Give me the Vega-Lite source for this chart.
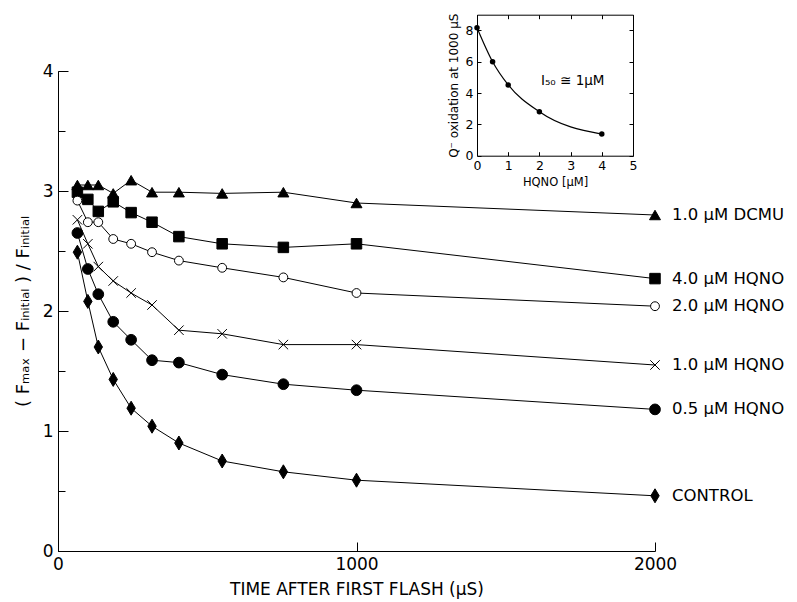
{
  "$schema": "https://vega.github.io/schema/vega-lite/v6.json",
  "width": 597,
  "height": 480,
  "autosize": {"type": "none"},
  "padding": {"left": 58, "top": 71, "right": 142, "bottom": 51},
  "background": "white",
  "config": {
    "view": {"stroke": null},
    "font": "DejaVu Sans",
    "axis": {"domainColor": "black", "tickColor": "black", "labelColor": "black", "titleColor": "black", "grid": false, "titleFontWeight": "normal", "domainWidth": 1, "tickWidth": 1, "labelFont": "DejaVu Sans", "titleFont": "DejaVu Sans"}
  },
  "datasets": {
    "main": [
      {"series": "1.0 µM DCMU", "t": 65, "v": 3.05},
      {"series": "1.0 µM DCMU", "t": 100, "v": 3.05},
      {"series": "1.0 µM DCMU", "t": 135, "v": 3.05},
      {"series": "1.0 µM DCMU", "t": 185, "v": 2.98},
      {"series": "1.0 µM DCMU", "t": 245, "v": 3.09},
      {"series": "1.0 µM DCMU", "t": 315, "v": 2.99},
      {"series": "1.0 µM DCMU", "t": 405, "v": 2.99},
      {"series": "1.0 µM DCMU", "t": 550, "v": 2.98},
      {"series": "1.0 µM DCMU", "t": 755, "v": 2.99},
      {"series": "1.0 µM DCMU", "t": 1000, "v": 2.90},
      {"series": "1.0 µM DCMU", "t": 2000, "v": 2.80},
      {"series": "4.0 µM HQNO", "t": 65, "v": 2.99},
      {"series": "4.0 µM HQNO", "t": 100, "v": 2.93},
      {"series": "4.0 µM HQNO", "t": 135, "v": 2.83},
      {"series": "4.0 µM HQNO", "t": 185, "v": 2.91},
      {"series": "4.0 µM HQNO", "t": 245, "v": 2.82},
      {"series": "4.0 µM HQNO", "t": 315, "v": 2.74},
      {"series": "4.0 µM HQNO", "t": 405, "v": 2.62},
      {"series": "4.0 µM HQNO", "t": 550, "v": 2.56},
      {"series": "4.0 µM HQNO", "t": 755, "v": 2.53},
      {"series": "4.0 µM HQNO", "t": 1000, "v": 2.56},
      {"series": "4.0 µM HQNO", "t": 2000, "v": 2.27},
      {"series": "2.0 µM HQNO", "t": 65, "v": 2.92},
      {"series": "2.0 µM HQNO", "t": 100, "v": 2.74},
      {"series": "2.0 µM HQNO", "t": 135, "v": 2.74},
      {"series": "2.0 µM HQNO", "t": 185, "v": 2.60},
      {"series": "2.0 µM HQNO", "t": 245, "v": 2.56},
      {"series": "2.0 µM HQNO", "t": 315, "v": 2.49},
      {"series": "2.0 µM HQNO", "t": 405, "v": 2.42},
      {"series": "2.0 µM HQNO", "t": 550, "v": 2.36},
      {"series": "2.0 µM HQNO", "t": 755, "v": 2.28},
      {"series": "2.0 µM HQNO", "t": 1000, "v": 2.15},
      {"series": "2.0 µM HQNO", "t": 2000, "v": 2.04},
      {"series": "1.0 µM HQNO", "t": 65, "v": 2.76},
      {"series": "1.0 µM HQNO", "t": 100, "v": 2.56},
      {"series": "1.0 µM HQNO", "t": 135, "v": 2.37},
      {"series": "1.0 µM HQNO", "t": 185, "v": 2.25},
      {"series": "1.0 µM HQNO", "t": 245, "v": 2.15},
      {"series": "1.0 µM HQNO", "t": 315, "v": 2.05},
      {"series": "1.0 µM HQNO", "t": 405, "v": 1.84},
      {"series": "1.0 µM HQNO", "t": 550, "v": 1.81},
      {"series": "1.0 µM HQNO", "t": 755, "v": 1.72},
      {"series": "1.0 µM HQNO", "t": 1000, "v": 1.72},
      {"series": "1.0 µM HQNO", "t": 2000, "v": 1.55},
      {"series": "0.5 µM HQNO", "t": 65, "v": 2.65},
      {"series": "0.5 µM HQNO", "t": 100, "v": 2.35},
      {"series": "0.5 µM HQNO", "t": 135, "v": 2.14},
      {"series": "0.5 µM HQNO", "t": 185, "v": 1.91},
      {"series": "0.5 µM HQNO", "t": 245, "v": 1.76},
      {"series": "0.5 µM HQNO", "t": 315, "v": 1.59},
      {"series": "0.5 µM HQNO", "t": 405, "v": 1.57},
      {"series": "0.5 µM HQNO", "t": 550, "v": 1.47},
      {"series": "0.5 µM HQNO", "t": 755, "v": 1.39},
      {"series": "0.5 µM HQNO", "t": 1000, "v": 1.34},
      {"series": "0.5 µM HQNO", "t": 2000, "v": 1.18},
      {"series": "CONTROL", "t": 65, "v": 2.49},
      {"series": "CONTROL", "t": 100, "v": 2.08},
      {"series": "CONTROL", "t": 135, "v": 1.70},
      {"series": "CONTROL", "t": 185, "v": 1.43},
      {"series": "CONTROL", "t": 245, "v": 1.19},
      {"series": "CONTROL", "t": 315, "v": 1.04},
      {"series": "CONTROL", "t": 405, "v": 0.90},
      {"series": "CONTROL", "t": 550, "v": 0.75},
      {"series": "CONTROL", "t": 755, "v": 0.66},
      {"series": "CONTROL", "t": 1000, "v": 0.59},
      {"series": "CONTROL", "t": 2000, "v": 0.46}
    ],
    "inset": [
      {"hqno": 0, "q": 8.17},
      {"hqno": 0.5, "q": 6.0},
      {"hqno": 1, "q": 4.52},
      {"hqno": 2, "q": 2.8},
      {"hqno": 4, "q": 1.38}
    ],
    "note": [
      {"hqno": 2.05, "q": 4.8, "text": "I₅₀ ≅ 1µM"}
    ]
  },
  "layer": [
    {
      "data": {"name": "main"},
      "mark": {"type": "line", "color": "black", "strokeWidth": 1},
      "encoding": {
        "x": {"field": "t", "type": "quantitative", "scale": {"domain": [0, 2000], "nice": false, "zero": false},
          "axis": {"orient": "bottom", "values": [0, 1000, 2000], "format": "d", "tickSize": -9, "labelPadding": 14, "labelFlush": false, "labelFontSize": 17, "title": "TIME AFTER FIRST FLASH (µS)", "titleFontSize": 17, "titlePadding": 9}},
        "y": {"field": "v", "type": "quantitative", "scale": {"domain": [0, 4], "nice": false, "zero": false},
          "axis": {"orient": "left", "domain": true, "values": [0, 1, 2, 3, 4], "tickSize": -10, "labelPadding": 15, "labelFontSize": 17, "title": "( Fₘₐₓ − Fᵢₙᵢₜᵢₐₗ ) / Fᵢₙᵢₜᵢₐₗ", "titleFontSize": 18, "titlePadding": 10}},
        "detail": {"field": "series"}
      }
    },
    {
      "data": {"name": "main"},
      "mark": {"type": "point", "filled": true, "stroke": "black", "strokeWidth": 1, "opacity": 1},
      "encoding": {
        "x": {"field": "t", "type": "quantitative", "scale": {"domain": [0, 2000], "nice": false, "zero": false}, "axis": null},
        "y": {"field": "v", "type": "quantitative", "scale": {"domain": [0, 4], "nice": false, "zero": false},
          "axis": {"orient": "left", "values": [0.5, 1.5, 2.5, 3.5], "tickSize": -7, "labels": false, "domain": true, "title": null}},
        "shape": {"field": "series", "type": "nominal", "legend": null,
          "scale": {"domain": ["1.0 µM DCMU", "4.0 µM HQNO", "2.0 µM HQNO", "1.0 µM HQNO", "0.5 µM HQNO", "CONTROL"],
            "range": ["triangle-up", "square", "circle", "M-1,-1L1,1M-1,1L1,-1", "circle", "M0,-1L0.6,0L0,1L-0.6,0Z"]}},
        "fill": {"field": "series", "type": "nominal", "legend": null,
          "scale": {"domain": ["1.0 µM DCMU", "4.0 µM HQNO", "2.0 µM HQNO", "1.0 µM HQNO", "0.5 µM HQNO", "CONTROL"],
            "range": ["black", "black", "white", "white", "black", "black"]}},
        "size": {"field": "series", "type": "nominal", "legend": null,
          "scale": {"type": "ordinal", "domain": ["1.0 µM DCMU", "4.0 µM HQNO", "2.0 µM HQNO", "1.0 µM HQNO", "0.5 µM HQNO", "CONTROL"],
            "range": [120, 110, 78, 90, 115, 196]}}
      }
    },
    {
      "data": {"name": "main"},
      "transform": [{"filter": "datum.t == 2000"}],
      "mark": {"type": "text", "align": "left", "baseline": "middle", "dx": 17, "fontSize": 16.5, "font": "DejaVu Sans", "color": "black"},
      "encoding": {
        "x": {"field": "t", "type": "quantitative", "scale": {"domain": [0, 2000], "nice": false, "zero": false}, "axis": null},
        "y": {"field": "v", "type": "quantitative", "scale": {"domain": [0, 4], "nice": false, "zero": false}, "axis": null},
        "text": {"field": "series"}
      }
    },
    {
      "data": {"name": "inset"},
      "mark": {"type": "line", "color": "black", "strokeWidth": 1.2, "interpolate": "monotone"},
      "encoding": {
        "x": {"field": "hqno", "type": "quantitative", "scale": {"domain": [0, 5], "range": [419, 575], "nice": false, "zero": false},
          "axis": {"orient": "bottom", "offset": -395.3, "values": [0, 1, 2, 3, 4, 5], "tickSize": -4, "labelPadding": 8, "labelFlush": false, "labelFontSize": 12.5, "title": "HQNO [µM]", "titleFontSize": 11.5, "titlePadding": 4}},
        "y": {"field": "q", "type": "quantitative", "scale": {"domain": [0, 9], "range": [84.7, -56.3], "nice": false, "zero": false},
          "axis": {"orient": "left", "offset": -419, "values": [0, 2, 4, 6, 8], "tickSize": -4, "labelPadding": 8, "labelFontSize": 12.5, "title": "Q⁻ oxidation at 1000 µS", "titleFontSize": 12, "titlePadding": 5}}
      }
    },
    {
      "data": {"name": "inset"},
      "mark": {"type": "point", "filled": true, "color": "black", "size": 30, "opacity": 1},
      "encoding": {
        "x": {"field": "hqno", "type": "quantitative", "scale": {"domain": [0, 5], "range": [419, 575], "nice": false, "zero": false},
          "axis": {"orient": "top", "offset": 56.3, "values": [0, 1, 2, 3, 4, 5], "tickSize": -4, "labels": false, "title": null}},
        "y": {"field": "q", "type": "quantitative", "scale": {"domain": [0, 9], "range": [84.7, -56.3], "nice": false, "zero": false},
          "axis": {"orient": "right", "offset": -22, "values": [0, 2, 4, 6, 8], "tickSize": -4, "labels": false, "title": null}}
      }
    },
    {
      "data": {"name": "note"},
      "mark": {"type": "text", "align": "left", "baseline": "middle", "fontSize": 13.5, "font": "DejaVu Sans", "color": "black"},
      "encoding": {
        "x": {"field": "hqno", "type": "quantitative", "scale": {"domain": [0, 5], "range": [419, 575], "nice": false, "zero": false}, "axis": null},
        "y": {"field": "q", "type": "quantitative", "scale": {"domain": [0, 9], "range": [84.7, -56.3], "nice": false, "zero": false}, "axis": null},
        "text": {"field": "text"}
      }
    }
  ],
  "resolve": {"scale": {"x": "independent", "y": "independent"}}
}
